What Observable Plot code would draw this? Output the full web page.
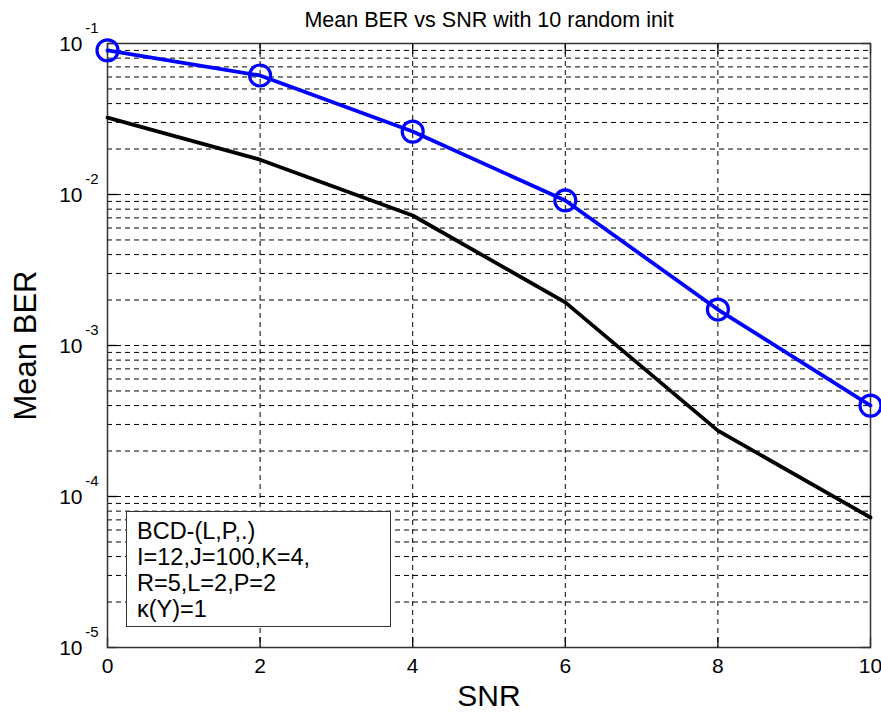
<!DOCTYPE html>
<html>
<head>
<meta charset="utf-8">
<script src="https://cdn.jsdelivr.net/npm/d3@7"></script>
<script src="https://cdn.jsdelivr.net/npm/@observablehq/plot@0.6"></script>
<style>
  html, body { margin: 0; padding: 0; background: #fff; }
  #wrap { position: relative; width: 881px; height: 715px; font-family: "Liberation Sans", Arial, sans-serif; }
  #legend {
    position: absolute; left: 126px; top: 511px; width: 263px; height: 108px;
    border: 1.5px solid #333; background: #fff; box-sizing: content-box;
    font-size: 23.5px; line-height: 26px; padding: 6px 0 0 0; color: #000;
  }
  #legend div { padding-left: 10px; white-space: nowrap; }
</style>
</head>
<body>
<div id="wrap"></div>
<script>
// ---- data ----
const snr = [0, 2, 4, 6, 8, 10];
const berCircles = [0.09, 0.0614, 0.0261, 0.00913, 0.00173, 0.0004];
const berBlack = [0.0323, 0.0170, 0.00726, 0.00193, 0.000273, 0.0000726];
const xTicks = [0, 2, 4, 6, 8, 10];
const yDecades = [1e-5, 1e-4, 1e-3, 1e-2, 1e-1];
const yExponents = ["-5", "-4", "-3", "-2", "-1"];
const mantissas = [2, 3, 4, 5, 6, 7, 8, 9];
const legendLines = ["BCD-(L,P,.)", "I=12,J=100,K=4,", "R=5,L=2,P=2", "\u03BA(Y)=1"];
const title = "Mean BER vs SNR with 10 random init";
const xLabel = "SNR";
const yLabel = "Mean BER";

const blue = snr.map((x, i) => ({x, y: berCircles[i]}));
const black = snr.map((x, i) => ({x, y: berBlack[i]}));
const gridY = [];
yDecades.slice(0, -1).forEach(d => { gridY.push(d); mantissas.forEach(m => gridY.push(d * m)); });
const decadeLabels = yDecades.map((d, i) => ({d, e: yExponents[i]}));

const font = "'Liberation Sans', Arial, sans-serif";
const dash = "5,4";

const chart = Plot.plot({
  width: 881, height: 715,
  marginLeft: 107, marginRight: 11, marginTop: 43, marginBottom: 68,
  style: {fontFamily: font, background: "#fff", color: "#000", overflow: "visible"},
  x: {domain: [0, 10]},
  y: {type: "log", domain: [1e-5, 1e-1]},
  marks: [
    Plot.ruleY(gridY, {y: d => d, stroke: "#000", strokeWidth: 1, strokeDasharray: dash}),
    Plot.ruleX(xTicks.slice(1, -1), {x: d => d, stroke: "#000", strokeWidth: 1, strokeDasharray: dash}),
    Plot.axisX({ticks: xTicks, anchor: "bottom", tickSize: -10, tickFormat: () => "", label: null, strokeWidth: 1.3}),
    Plot.axisX({ticks: xTicks, anchor: "top", tickSize: -10, tickFormat: () => "", label: null, strokeWidth: 1.3}),
    Plot.axisY({ticks: yDecades, anchor: "left", tickSize: -10, tickFormat: () => "", label: null, strokeWidth: 1.3}),
    Plot.axisY({ticks: yDecades, anchor: "right", tickSize: -10, tickFormat: () => "", label: null, strokeWidth: 1.3}),
    Plot.frame({stroke: "#333", strokeWidth: 1.5}),
    Plot.line(black, {x: "x", y: "y", stroke: "#000", strokeWidth: 3.8}),
    Plot.line(blue, {x: "x", y: "y", stroke: "#0000ff", strokeWidth: 3.8}),
    Plot.dot(blue, {x: "x", y: "y", r: 10.5, stroke: "#0000ff", strokeWidth: 3.2, fill: "none"}),
    // x tick labels
    Plot.text(xTicks, {x: d => d, frameAnchor: "bottom", lineAnchor: "middle", dy: 19, text: d => String(d), fontSize: 21, fill: "#000"}),
    // y tick labels: 10 with superscript exponent
    Plot.text(decadeLabels, {y: "d", frameAnchor: "left", lineAnchor: "middle", dx: -25, dy: 1, text: () => "10", textAnchor: "end", fontSize: 21, fill: "#000"}),
    Plot.text(decadeLabels, {y: "d", frameAnchor: "left", lineAnchor: "middle", dx: -9, dy: -15, text: "e", textAnchor: "end", fontSize: 15, fill: "#000"}),
    // title and axis labels
    Plot.text([title], {frameAnchor: "top", lineAnchor: "middle", dy: -23, text: d => d, fontSize: 21.5, fill: "#000"}),
    Plot.text([xLabel], {frameAnchor: "bottom", lineAnchor: "middle", dy: 49, text: d => d, fontSize: 30, fill: "#000"}),
    Plot.text([yLabel], {frameAnchor: "left", textAnchor: "middle", lineAnchor: "middle", dx: -81, rotate: -90, text: d => d, fontSize: 31, fill: "#000"})
  ]
});

const wrap = document.getElementById("wrap");
wrap.appendChild(chart);
const legend = document.createElement("div");
legend.id = "legend";
legendLines.forEach(t => { const d = document.createElement("div"); d.textContent = t; legend.appendChild(d); });
wrap.appendChild(legend);
</script>
</body>
</html>
